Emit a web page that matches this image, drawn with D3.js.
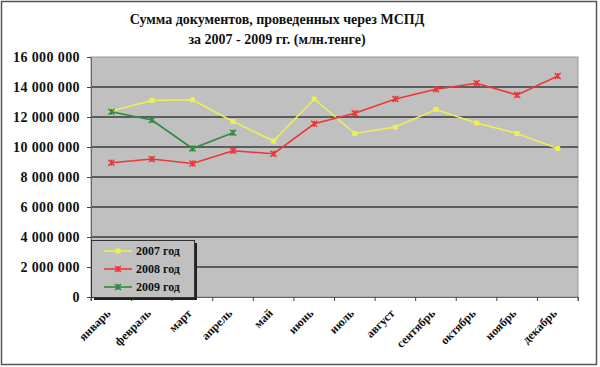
<!DOCTYPE html>
<html><head><meta charset="utf-8">
<script src="https://cdn.jsdelivr.net/npm/d3@7"></script>
<style>body{margin:0;background:#fff}svg{display:block}text{font-family:"Liberation Serif","Times New Roman",serif;font-weight:bold}</style>
</head><body><svg id="c" width="600" height="367"></svg>
<script>
const months = ["январь","февраль","март","апрель","май","июнь","июль","август","сентябрь","октябрь","ноябрь","декабрь"];
const s2007 = [12400000,13100000,13150000,11700000,10400000,13200000,10900000,11330000,12500000,11600000,10900000,9900000];
const s2008 = [8950000,9200000,8900000,9750000,9550000,11550000,12250000,13200000,13850000,14250000,13470000,14730000];
const s2009 = [12350000,11800000,9900000,10950000];
const yTicks = [0,2000000,4000000,6000000,8000000,10000000,12000000,14000000,16000000];
const seriesNames = ["2007 год","2008 год","2009 год"];
const seriesColors = ["#eeee55","#f03535","#2e8b3e"];
const titleLines = ["Сумма документов, проведенных через МСПД","за 2007 - 2009 гг. (млн.тенге)"];

const svg = d3.select("#c");
svg.append("rect").attr("x",1.5).attr("y",1.5).attr("width",595).attr("height",363).attr("fill","#fff").attr("stroke","#555").attr("stroke-width",1.5);

const L=91,R=578,T=57,B=297;
const x = d3.scaleBand().domain(months).range([L,R]);
const y = d3.scaleLinear().domain([0,16000000]).range([B,T]);

svg.append("rect").attr("x",L).attr("y",T).attr("width",R-L).attr("height",B-T).attr("fill","#c0c0c0").attr("stroke","#999");

svg.append("g").selectAll("line").data(yTicks.slice(1,-1)).join("line")
  .attr("x1",L).attr("x2",R).attr("y1",d=>y(d)).attr("y2",d=>y(d)).attr("stroke","#3c3c3c").attr("stroke-width",1.5);

const fmt = d => d3.format(",")(d).replace(/,/g," ");
const ya = svg.append("g").attr("transform",`translate(${L},0)`).call(d3.axisLeft(y).tickValues(yTicks).tickFormat(fmt).tickSize(4).tickPadding(7));
ya.select(".domain").attr("stroke","#666");
ya.selectAll(".tick line").attr("stroke","#444");
ya.selectAll("text").attr("font-size","14px").attr("fill","#111").attr("letter-spacing","0.4px")
  .style("font-family","'Liberation Serif',serif").style("font-weight","bold");

const xa = svg.append("g").attr("transform",`translate(0,${B})`).call(d3.axisBottom(x).tickSize(4).tickFormat(d=>d));
xa.select(".domain").attr("stroke","#666");
xa.selectAll(".tick line").attr("stroke","#444").attr("transform",`translate(${-x.bandwidth()/2},0)`);
xa.selectAll("text").attr("font-size","12px").attr("fill","#111").attr("text-anchor","end")
  .attr("x",0).attr("y",0).attr("dy","0.35em")
  .attr("transform","translate(-3,14) rotate(-45)")
  .style("font-family","'Liberation Serif',serif").style("font-weight","bold");
svg.append("line").attr("x1",R).attr("x2",R).attr("y1",B).attr("y2",B+4).attr("stroke","#444");

const cx = (i)=>x(months[i])+x.bandwidth()/2;
const line = d3.line().x((d,i)=>cx(i)).y(d=>y(d));
const star = (px,py,r)=>`M${px-r},${py-r}L${px+r},${py+r}M${px-r},${py+r}L${px+r},${py-r}M${px},${py-r}L${px},${py+r}`;
const all = [s2007,s2008,s2009];
all.forEach((s,k)=>{
  svg.append("path").datum(s).attr("d",line).attr("fill","none").attr("stroke",seriesColors[k]).attr("stroke-width",1.6);
  const g = svg.append("g");
  s.forEach((v,i)=>{
    const px=cx(i),py=y(v);
    if(k===0){
      g.append("rect").attr("x",px-2.5).attr("y",py-2.5).attr("width",5).attr("height",5).attr("fill",seriesColors[k]);
    } else {
      g.append("path").attr("d",star(px,py,3)).attr("stroke",seriesColors[k]).attr("stroke-width",1.5).attr("fill","none");
    }
  });
});

// legend
const lg = svg.append("g");
lg.append("rect").attr("x",94).attr("y",243).attr("width",103).attr("height",57).attr("fill","#222");
lg.append("rect").attr("x",91.5).attr("y",240.5).attr("width",103).attr("height",57).attr("fill","#c0c0c0").attr("stroke","#333");
seriesNames.forEach((n,k)=>{
  const yy=251+k*18;
  lg.append("line").attr("x1",104).attr("x2",132).attr("y1",yy).attr("y2",yy).attr("stroke",seriesColors[k]).attr("stroke-width",1.6);
  if(k===0) lg.append("rect").attr("x",115.5).attr("y",yy-2.5).attr("width",5).attr("height",5).attr("fill",seriesColors[k]);
  else lg.append("path").attr("d",star(118,yy,3)).attr("stroke",seriesColors[k]).attr("stroke-width",1.5);
  lg.append("text").attr("x",136).attr("y",yy+4).attr("font-size","12px").attr("fill","#111").text(n);
});

svg.append("g").selectAll("text").data(titleLines).join("text")
  .attr("x",277).attr("y",(d,i)=>24+i*20).attr("text-anchor","middle").attr("font-size","14px").attr("fill","#111").text(d=>d);
</script></body></html>
